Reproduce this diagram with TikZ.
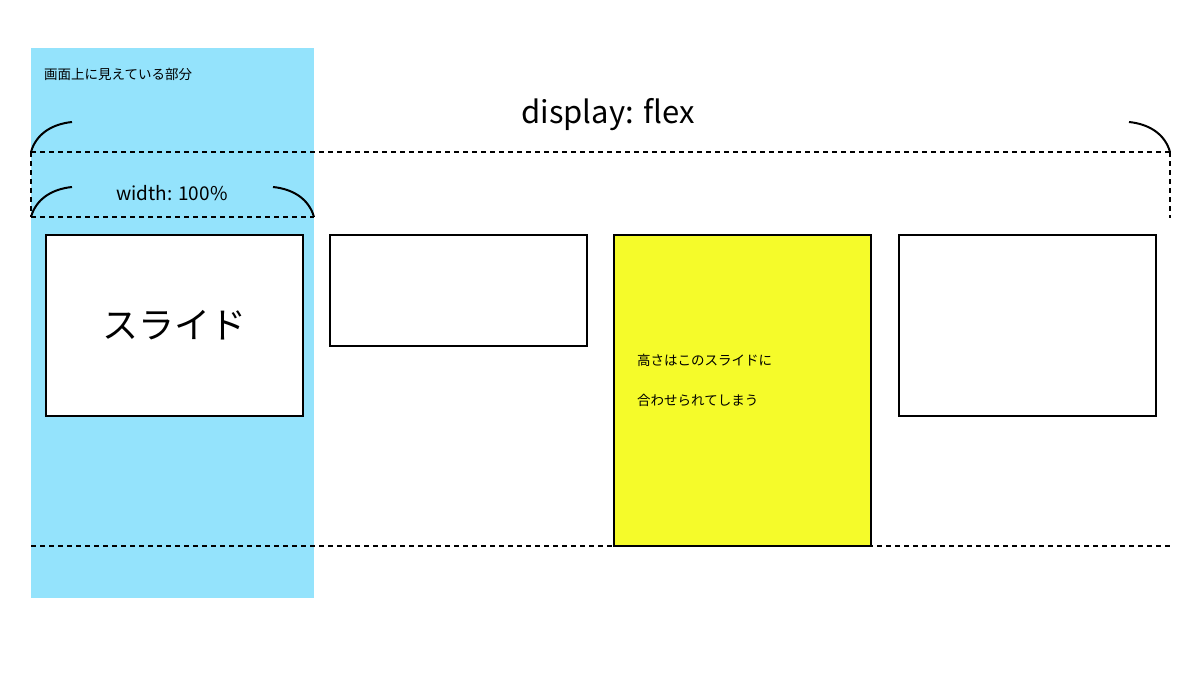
\documentclass[tikz,border=0pt]{standalone}
\usepackage{fontspec}
\setmainfont{Noto Sans CJK JP}
\definecolor{sky}{HTML}{94E3FC}
\definecolor{yel}{HTML}{F5FB2A}
\begin{document}
\begin{tikzpicture}[x=1pt,y=-1pt,
  dline/.style={line width=1.5pt,dash pattern=on 5pt off 4pt},
  arcl/.style={line width=2pt},
  box/.style={draw,line width=1.5pt,minimum width=257pt,anchor=north west,inner sep=0pt},
  lab/.style={inner sep=0pt}]
\useasboundingbox (0,0) rectangle (1200,675);
\fill[sky] (31,48) rectangle (314,598);
\node[lab,anchor=west,font=\fontsize{13.5}{16}\selectfont] (vis) at (44,74) {画面上に見えている部分};
\node[lab,font=\fontsize{31}{36}\selectfont] (disp) at (608,115) {display: flex};
\node[lab,font=\fontsize{19}{22}\selectfont] (wid) at (172,193) {width: 100\%};
\draw[dline] (31,152) -- (1170,152);
\draw[dline] (31,152) -- (31,217);
\draw[dline] (1170,152) -- (1170,218);
\draw[dline] (31,217) -- (314,217);
\draw[dline] (31,546) -- (1170,546);
\draw[arcl] (31,152) .. controls (36,134) and (52,124) .. (72,122);
\draw[arcl] (1170,152) .. controls (1165,134) and (1149,124) .. (1129,122);
\draw[arcl] (31,217) .. controls (36,199) and (52,189) .. (72,187);
\draw[arcl] (314,217) .. controls (309,199) and (293,189) .. (273,187);
\node[box,fill=white,minimum height=181pt] (s1) at (45,234) {};
\node[lab,font=\fontsize{36}{40}\selectfont] (t1) at (s1.center) {スライド};
\node[box,fill=white,minimum height=111pt] (s2) at (329,234) {};
\node[box,fill=yel,minimum height=311pt] (s3) at (613,234) {};
\node[lab,anchor=west,font=\fontsize{13.5}{16}\selectfont] (y1) at (637,360) {高さはこのスライドに};
\node[lab,anchor=west,font=\fontsize{13.5}{16}\selectfont] (y2) at (637,400) {合わせられてしまう};
\node[box,fill=white,minimum height=181pt] (s4) at (898,234) {};
\end{tikzpicture}
\end{document}
